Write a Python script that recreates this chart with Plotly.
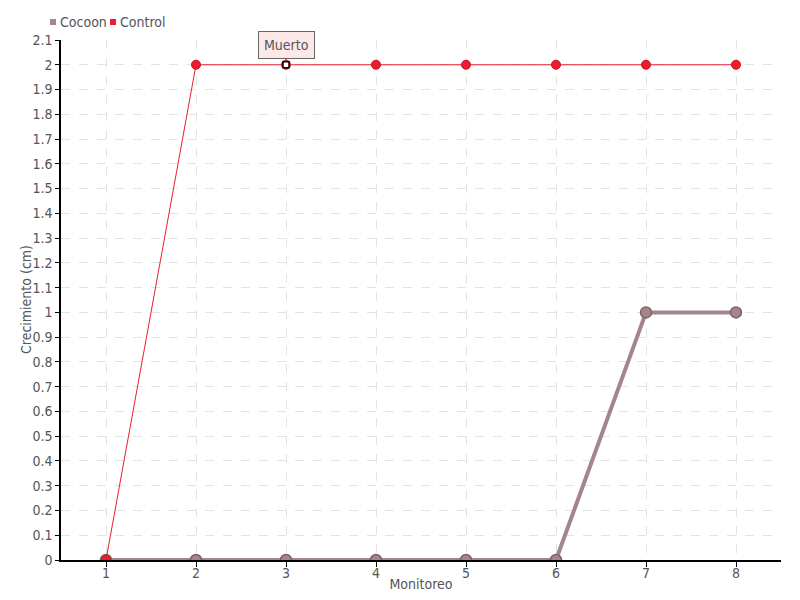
import plotly.graph_objects as go

monitoreo = [1, 2, 3, 4, 5, 6, 7, 8]
cocoon = [0, 0, 0, 0, 0, 0, 1, 1]
control = [0, 2, 2, 2, 2, 2, 2, 2]
series_names = ["Cocoon", "Control"]
y_ticks = [round(i * 0.1, 1) for i in range(22)]
y_tick_labels = ["0" if v == 0 else ("%g" % v) for v in y_ticks]
note_index = 2
note_text = "Muerto"

FONT = "DejaVu Sans Condensed, Liberation Sans Narrow, sans-serif"
TXT = "#555555"
COCOON_C = "#a3868b"
CONTROL_C = "#ed1c2e"
ML, MT, PW, PH = 53, 32, 720, 520

fig = go.Figure()
fig.add_trace(go.Scatter(
    x=monitoreo, y=cocoon, mode="lines+markers", name=series_names[0], showlegend=False,
    line=dict(color=COCOON_C, width=4),
    marker=dict(size=11, color=COCOON_C, line=dict(color="#7e6266", width=1.5)),
))
fig.add_trace(go.Scatter(
    x=monitoreo, y=control, mode="lines+markers", name=series_names[1], showlegend=False,
    line=dict(color=CONTROL_C, width=1),
    marker=dict(size=9, color=CONTROL_C, line=dict(color="#c8101f", width=1)),
))
fig.add_trace(go.Scatter(
    x=[monitoreo[note_index]], y=[control[note_index]], mode="markers", showlegend=False,
    marker=dict(size=6, symbol="square", color="white", line=dict(color="black", width=1.5)),
    hoverinfo="skip",
))

def px_x(v):
    return (v - ML) / PW

leg_y = 1 + (MT - 14) / PH
for name, col, sx in [(series_names[0], COCOON_C, 42), (series_names[1], CONTROL_C, 102)]:
    fig.add_shape(type="rect", xref="paper", yref="paper",
                  x0=px_x(sx), x1=px_x(sx + 6),
                  y0=leg_y - 3 / PH, y1=leg_y + 3 / PH,
                  fillcolor=col, line=dict(width=0))
    fig.add_annotation(xref="paper", yref="paper", x=px_x(sx + 8), y=leg_y,
                       xanchor="left", yanchor="middle", text=name, showarrow=False,
                       font=dict(family=FONT, size=14, color=TXT))

fig.add_annotation(
    x=monitoreo[note_index], y=control[note_index], text=note_text,
    showarrow=True, arrowhead=0, arrowwidth=1, arrowcolor="#555555",
    ax=0, ay=-20, bgcolor="#fde8e8", bordercolor="#666666", borderwidth=1,
    borderpad=5, font=dict(family=FONT, size=14, color=TXT),
    standoff=3,
)

fig.add_annotation(xref="paper", yref="paper", x=px_x(18), y=0.5,
                   text="Crecimiento (cm)", textangle=-90, showarrow=False,
                   xanchor="center", yanchor="middle",
                   font=dict(family=FONT, size=14, color=TXT))

fig.update_layout(
    width=800, height=600,
    margin=dict(l=ML, r=800 - ML - PW, t=MT, b=600 - MT - PH, autoexpand=False),
    paper_bgcolor="white", plot_bgcolor="white",
    font=dict(family=FONT, size=14, color=TXT),
    showlegend=False,
    xaxis=dict(
        range=[0.5, 8.5], tickmode="array", tickvals=monitoreo, automargin=False,
        showline=True, linecolor="black", linewidth=1.5,
        ticks="outside", ticklen=5, tickcolor="black", ticklabelstandoff=-6,
        showgrid=True, gridcolor="#e3e3e3", griddash="dash", zeroline=False,
        title=dict(text="Monitoreo", font=dict(family=FONT, size=14, color=TXT), standoff=0),
        tickfont=dict(family=FONT, size=14, color=TXT),
    ),
    yaxis=dict(
        range=[0, 2.1], tickmode="array", tickvals=y_ticks, ticktext=y_tick_labels,
        automargin=False,
        showline=True, linecolor="black", linewidth=1.5,
        ticks="outside", ticklen=4, tickcolor="black",
        showgrid=True, gridcolor="#e3e3e3", griddash="dash", zeroline=False,
        tickfont=dict(family=FONT, size=14, color=TXT),
    ),
)

fig.write_html("out.html")
